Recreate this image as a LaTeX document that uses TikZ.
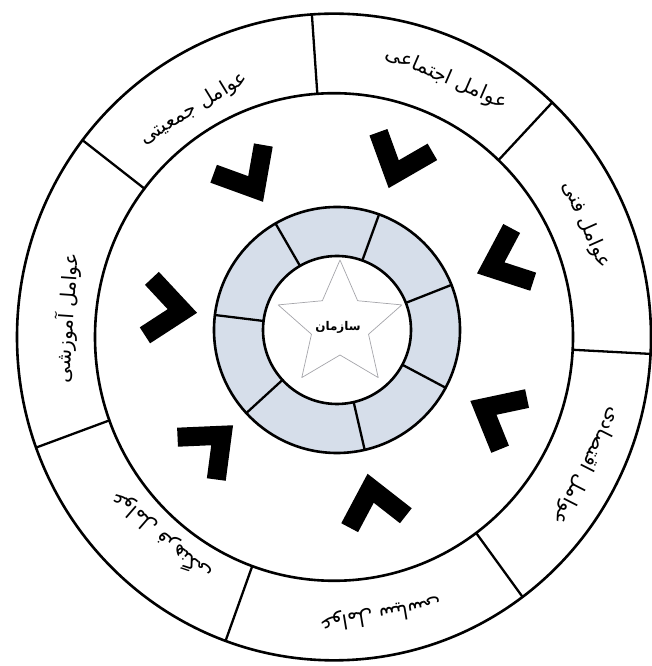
\documentclass[tikz,border=0pt]{standalone}
\usepackage{fontspec}
\newfontfamily\fa[Script=Arabic]{DejaVu Sans}
\TeXXeTstate=1
\definecolor{ringfill}{RGB}{214,222,234}
\definecolor{starcol}{RGB}{165,165,170}
\tikzset{
  ringline/.style={line width=2.6pt, draw=black},
  divline/.style={line width=2.3pt, draw=black, line cap=round},
  faclabel/.style={font=\fa\fontsize{20}{22}\selectfont, inner sep=1pt},
  chev/.style={fill=black},
}
\begin{document}
\begin{tikzpicture}[x=1pt,y=1pt]
\useasboundingbox[fill=white] (0,0) rectangle (651,666);
\coordinate (O) at (334,329);
\coordinate (I) at (337,336);
\coordinate (S) at (340,341);

% inner ring
\begin{scope}[shift={(I)}]
  \fill[ringfill, even odd rule] (0,0) circle (123pt) (0,0) circle (74pt);
  \draw[ringline] (0,0) circle (123pt);
  \draw[ringline] (0,0) circle (74pt);
  \foreach \a in {120,70,21.5,-28,-77,222.5,173}
    \draw[divline] (\a:74) -- (\a:123);
\end{scope}

% star and centre text
\draw[starcol, line width=0.7pt, line join=round, shift={(S)}]
  (90:65) -- (126:30) -- (162:65) -- (198:30) -- (234:65) -- (270:30)
  -- (306:65) -- (342:30) -- (18:65) -- (54:30) -- cycle;
\node[font=\fa\bfseries\fontsize{12}{14}\selectfont] (org) at (338,339) {\beginR سازمان\endR};

% chevrons (apex toward the centre)
\foreach \a/\r in {120/148,70/151,22/151,-28/151,-78/147,222.5/141,173/141}{
  \fill[chev, shift={(I)}, rotate=\a]
    (\r,0) -- (\r+42.9,36) -- (\r+55.1,21.4) -- (\r+29.6,0)
    -- (\r+55.1,-21.4) -- (\r+42.9,-36) -- cycle;
}

% outer ring
\begin{scope}[shift={(O)}, yscale=1.02]
  \draw[ringline] (0,0) circle (317pt);
  \draw[ringline] (0,0) circle (239pt);
  \foreach \a in {94,46.5,-3,-53.5,-110,200,142.5}
    \draw[divline] (\a:239) -- (\a:317);
\end{scope}

% labels
\begin{scope}[shift={(O)}]
  \node[faclabel, rotate=31.5]  (t1) at (121.5:268) {\beginR عوامل جمعیتی\endR};
  \node[faclabel, rotate=-23.5] (t2) at (66.5:282)  {\beginR عوامل اجتماعی\endR};
  \node[faclabel, rotate=-66]   (t3) at (24:276)    {\beginR عوامل فنی\endR};
  \node[faclabel, rotate=-117]  (t4) at (-27:284)   {\beginR عوامل اقتصادی\endR};
  \node[faclabel, rotate=-170.5](t5) at (-80.5:281) {\beginR عوامل سیاسی\endR};
  \node[faclabel, rotate=139]   (t6) at (229:264)   {\beginR عوامل فرهنگی\endR};
  \node[faclabel, rotate=86]    (t7) at (176:268)   {\beginR عوامل آموزشی\endR};
\end{scope}
\end{tikzpicture}
\end{document}
